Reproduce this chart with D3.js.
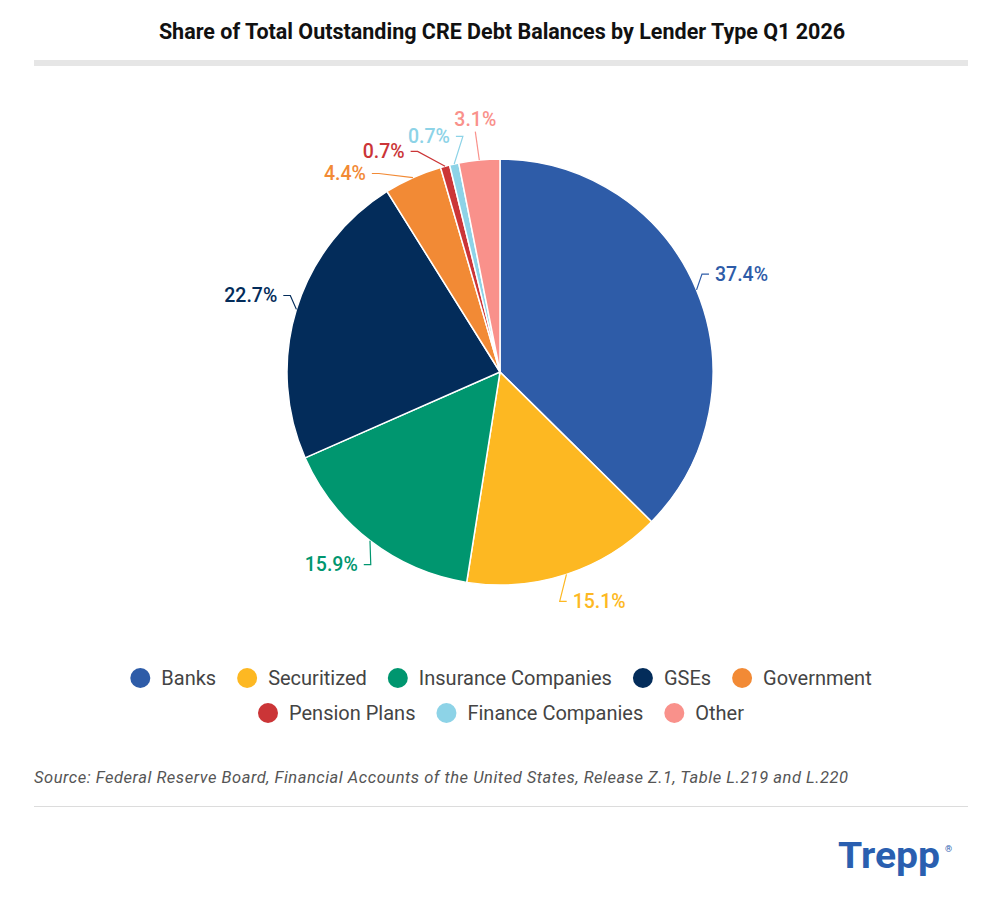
<!DOCTYPE html>
<html>
<head>
<meta charset="utf-8">
<script src="https://cdn.jsdelivr.net/npm/d3@7"></script>
<style>
  body { margin: 0; background: #fff; font-family: Roboto, "Noto Sans", sans-serif; }
</style>
</head>
<body>
<div id="chart"></div>
<script>
// data ----------------------------------------------------------------
const lenders = ['Banks', 'Securitized', 'Insurance Companies', 'GSEs', 'Government',
                 'Pension Plans', 'Finance Companies', 'Other'];
const shares = [37.4, 15.1, 15.9, 22.7, 4.4, 0.7, 0.7, 3.1];
const colours = ['#2e5ca8', '#fdb822', '#00966f', '#032c5a', '#f28a35',
                 '#cb3537', '#8dd3e7', '#f9918b'];

const title = 'Share of Total Outstanding CRE Debt Balances by Lender Type Q1 2026';
const source = 'Source: Federal Reserve Board, Financial Accounts of the United States, Release Z.1, Table L.219 and L.220';

const W = 1002, H = 898;
const data = lenders.map((name, i) => ({ name, v: shares[i], c: colours[i] }));

const svg = d3.select('#chart').append('svg')
  .attr('width', W)
  .attr('height', H);

// title + grey rule
svg.append('text')
  .attr('x', W / 2 + 1).attr('y', 39)
  .attr('text-anchor', 'middle')
  .attr('font-size', 21.5).attr('font-weight', 700).attr('fill', '#111')
  .text(title);

svg.append('rect')
  .attr('x', 34).attr('y', 60).attr('width', 934).attr('height', 6)
  .attr('fill', '#e6e6e6');

// pie -----------------------------------------------------------------
const cx = 500, cy = 372, R = 213, LR = 233, yShift = 8;
const pie = d3.pie().sort(null).value(d => d.v);
const arcs = pie(data);
const arc = d3.arc().innerRadius(0).outerRadius(R);

const g = svg.append('g').attr('transform', `translate(${cx},${cy})`);

g.selectAll('path.slice')
  .data(arcs)
  .join('path')
    .attr('class', 'slice')
    .attr('d', arc)
    .attr('fill', d => d.data.c)
    .attr('stroke', '#fff')
    .attr('stroke-width', 1.5);

// labels: placed along mid angle, pushed anticlockwise to avoid overlap
const fmt = v => v.toFixed(1) + '%';
const labFont = 19.5, labH = 19, pad = 3;

const labels = arcs.map(d => {
  const mid = (d.startAngle + d.endAngle) / 2;
  return { d, mid, a: mid, text: fmt(d.data.v), w: 0 };
});

// measure
const meas = svg.append('text').attr('font-size', labFont).attr('font-weight', 500);
labels.forEach(l => { meas.text(l.text); l.w = meas.node().getComputedTextLength(); });
meas.remove();

function place(l) {
  const s = Math.sin(l.a), c = Math.cos(l.a);
  if (Math.abs(s) < 0.2) {
    // top / bottom label, centred above or below
    const rr = LR + labH + 2;
    const x = rr * s, y = -rr * c;
    l.anchor = 'middle'; l.x = x; l.y = y;
    l.box = [x - l.w / 2, y - labH / 2, x + l.w / 2, y + labH / 2];
    l.side = 0;
  } else {
    const x = LR * s, y = -LR * c - yShift * Math.sign(c);
    l.side = s > 0 ? 1 : -1;
    l.anchor = s > 0 ? 'start' : 'end';
    l.x = x; l.y = y;
    l.box = s > 0 ? [x, y - labH / 2, x + l.w, y + labH / 2]
                  : [x - l.w, y - labH / 2, x, y + labH / 2];
  }
}
function overlap(a, b) {
  return !(a.box[2] + pad < b.box[0] || b.box[2] + pad < a.box[0] ||
           a.box[3] + pad < b.box[1] || b.box[3] + pad < a.box[1]);
}
labels.forEach(place);
for (let i = labels.length - 2; i >= 0; i--) {
  let n = 0;
  while (overlap(labels[i], labels[i + 1]) && n < 400) {
    labels[i].a -= 0.0035;
    place(labels[i]);
    n++;
  }
}

// connectors
const lineGen = d3.line();
g.selectAll('path.leader')
  .data(labels)
  .join('path')
    .attr('class', 'leader')
    .attr('fill', 'none')
    .attr('stroke', l => l.d.data.c)
    .attr('stroke-width', 1.2)
    .attr('d', l => {
      const p0 = [R * Math.sin(l.mid), -R * Math.cos(l.mid)];
      if (l.side === 0) {
        const p2 = [l.x, l.y + labH / 2 + 3];
        return lineGen([p0, p2]);
      }
      const p2 = [l.x - l.side * 6, l.y];
      const p1 = [p2[0] - l.side * 7, l.y];
      return lineGen([p0, p1, p2]);
    });

g.selectAll('text.lab')
  .data(labels)
  .join('text')
    .attr('class', 'lab')
    .attr('x', l => l.x)
    .attr('y', l => l.y)
    .attr('dy', '0.35em')
    .attr('text-anchor', l => l.anchor)
    .attr('font-size', labFont)
    .attr('font-weight', 500)
    .attr('fill', l => l.d.data.c)
    .text(l => l.text);

// legend --------------------------------------------------------------
const legFont = 20, dotR = 10, dotGap = 11, itemGap = 21, maxRow = 780;
const lm = svg.append('text').attr('font-size', legFont);
const items = data.map(d => {
  lm.text(d.name);
  return { ...d, tw: lm.node().getComputedTextLength() };
});
lm.remove();
items.forEach(it => { it.w = dotR * 2 + dotGap + it.tw; });

const rows = [[]];
let rowW = 0;
items.forEach(it => {
  const add = (rows[rows.length - 1].length ? itemGap : 0) + it.w;
  if (rowW + add > maxRow) { rows.push([it]); rowW = it.w; }
  else { rows[rows.length - 1].push(it); rowW += add; }
});

const leg = svg.append('g');
rows.forEach((row, ri) => {
  const total = d3.sum(row, d => d.w) + itemGap * (row.length - 1);
  let x = W / 2 - total / 2;
  const y = 678 + ri * 35;
  row.forEach(it => {
    leg.append('circle')
      .attr('cx', x + dotR).attr('cy', y).attr('r', dotR)
      .attr('fill', it.c);
    leg.append('text')
      .attr('x', x + dotR * 2 + dotGap).attr('y', y)
      .attr('dy', '0.35em')
      .attr('font-size', legFont).attr('fill', '#444')
      .text(it.name);
    x += it.w + itemGap;
  });
});

// source + rule + logo ------------------------------------------------
svg.append('text')
  .attr('x', 34).attr('y', 783)
  .attr('font-size', 16.5).attr('font-style', 'italic').attr('fill', '#555')
  .attr('textLength', 814).attr('lengthAdjust', 'spacing')
  .text(source);

svg.append('line')
  .attr('x1', 34).attr('x2', 968).attr('y1', 806.5).attr('y2', 806.5)
  .attr('stroke', '#dcdcdc').attr('stroke-width', 1);

svg.append('text')
  .attr('x', 838).attr('y', 868)
  .attr('font-size', 37).attr('font-weight', 700).attr('fill', '#2a5fb0')
  .attr('textLength', 102).attr('lengthAdjust', 'spacingAndGlyphs')
  .text('Trepp');
svg.append('text')
  .attr('x', 945).attr('y', 852)
  .attr('font-size', 9).attr('fill', '#2a5fb0')
  .text('®');
</script>
</body>
</html>
